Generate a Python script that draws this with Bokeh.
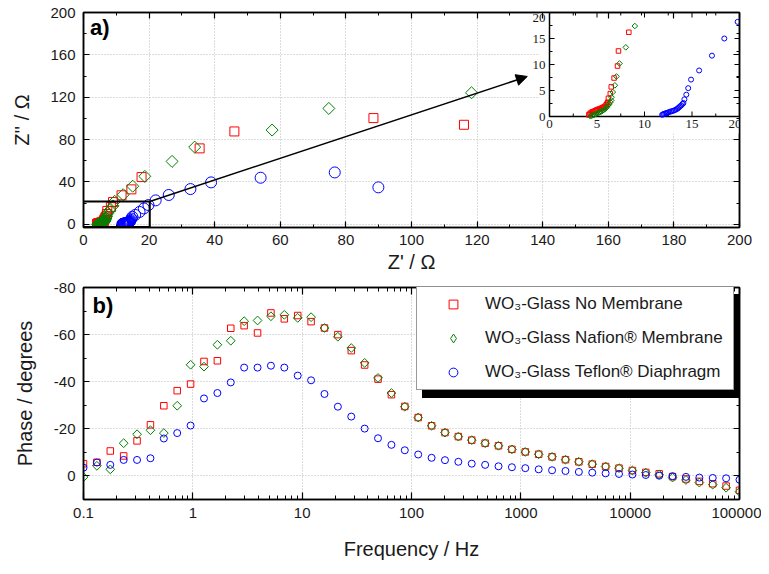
from bokeh.plotting import figure
from bokeh.models import (Range1d, FixedTicker, LinearAxis, LogAxis, Legend, LegendItem,
                          Arrow, NormalHead, Label, LabelSet, CustomJSTickFormatter,
                          BoxAnnotation, ColumnDataSource)
from bokeh.layouts import column
from bokeh.embed import file_html
from bokeh.resources import INLINE
import math

FONT = "Liberation Sans"
RED, GREEN, BLUE = "#ff0000", "#008000", "#0000ff"

# ---------------- data: Nyquist (Z' , Z'') ----------------
zr_nomem = [4.14, 4.2, 4.3, 4.42, 4.55, 4.66, 4.8, 4.92, 5.02, 5.15, 5.27, 5.37, 5.5, 5.62,
            5.72, 5.85, 5.97, 6.06, 6.14, 6.2, 6.4, 6.5, 6.8, 7.16, 7.26, 8.35, 9.0, 11.6,
            14.6, 17.7, 35.4, 46.0, 88.4, 116.0]
zi_nomem = [0.3, 0.42, 0.63, 0.78, 0.9, 0.98, 1.1, 1.2, 1.3, 1.38, 1.45, 1.52, 1.62, 1.72,
            1.82, 1.98, 2.25, 2.5, 2.75, 3.5, 4.4, 5.7, 7.4, 9.7, 12.6, 16.2, 21.0, 27.4,
            33.0, 44.6, 71.7, 87.7, 100.3, 94.0]
zr_nafion = [4.3, 4.45, 4.6, 4.75, 4.9, 5.05, 5.2, 5.32, 5.44, 5.56, 5.68, 5.8, 5.92, 6.03,
             6.14, 6.3, 6.4, 6.5, 6.53, 6.66, 6.88, 7.05, 7.37, 8.03, 8.98, 9.5, 12.1, 15.0,
             18.7, 27.0, 33.9, 57.5, 74.8, 118.3]
zi_nafion = [0.06, 0.15, 0.25, 0.36, 0.5, 0.62, 0.75, 0.86, 0.96, 1.08, 1.22, 1.4, 1.58, 1.8,
             2.1, 2.4, 2.75, 3.1, 3.7, 4.7, 6.0, 7.7, 10.2, 13.3, 17.4, 21.7, 28.0, 36.0,
             45.3, 59.4, 72.9, 89.0, 109.4, 124.2]
zr_teflon = [11.86, 11.95, 12.05, 12.18, 12.3, 12.39, 12.52, 12.65, 12.8, 12.95, 13.1, 13.25,
             13.4, 13.52, 13.62, 13.75, 13.87, 14.0, 14.1, 14.2, 14.4, 14.6, 14.9, 15.75, 17.1,
             18.4, 19.8, 22.0, 26.0, 32.6, 38.9, 54.0, 76.6, 89.9]
zi_teflon = [0.33, 0.42, 0.5, 0.6, 0.65, 0.7, 0.8, 0.9, 0.98, 1.05, 1.15, 1.28, 1.42, 1.58,
             1.75, 1.95, 2.15, 2.4, 2.6, 3.3, 4.2, 5.45, 7.1, 8.85, 11.7, 15.0, 18.2, 22.6,
             27.7, 33.3, 39.6, 44.0, 49.0, 34.9]

# ---------------- data: Bode phase ----------------
freq = [0.1, 0.1326, 0.1758, 0.2330, 0.3089, 0.4095, 0.5429, 0.7197, 0.9541, 1.2649,
        1.6768, 2.2230, 2.9471, 3.9069, 5.1795, 6.8665, 9.1030, 12.068, 15.998, 21.209,
        28.117, 37.276, 49.417, 65.512, 86.851, 115.14, 152.64, 202.36, 268.27, 355.65,
        471.49, 625.06, 828.65, 1098.6, 1456.3, 1930.7, 2559.5, 3393.2, 4498.4, 5963.6,
        7906.0, 10481, 13895, 18421, 24421, 32375, 42919, 56898, 75431, 100000]
ph_nomem = [-5.2, -5.8, -10.6, -8.5, -14.9, -21.7, -29.8, -36.2, -39.0, -48.6, -48.9, -62.7,
            -63.8, -60.7, -69.2, -66.7, -68.1, -65.5, -62.8, -60.0, -53.2, -47.1, -41.1, -34.5,
            -29.5, -24.8, -21.3, -18.4, -16.7, -15.2, -13.9, -12.8, -11.3, -10.2, -9.2, -8.1,
            -6.9, -6.0, -5.0, -4.0, -3.3, -2.3, -1.5, -0.9, 0.3, 1.3, 2.3, 3.3, 4.3, 6.1]
ph_nafion = [0.5, -4.3, -2.8, -13.9, -17.7, -19.4, -18.2, -29.8, -47.2, -46.4, -55.7, -57.4,
             -65.7, -66.0, -67.8, -68.4, -67.1, -67.4, -62.8, -59.1, -54.3, -48.0, -41.6, -35.2,
             -29.4, -24.8, -21.3, -18.4, -16.7, -15.2, -13.9, -12.8, -11.3, -10.2, -9.2, -8.1,
             -6.9, -6.0, -5.0, -4.0, -3.3, -2.3, -1.4, -0.6, 0.7, 1.7, 2.8, 3.7, 5.0, 6.7]
ph_teflon = [-3.5, -5.7, -4.7, -6.8, -6.8, -7.5, -15.9, -18.2, -21.4, -32.9, -35.2, -39.7,
             -46.0, -46.0, -46.8, -46.0, -42.6, -40.6, -34.8, -29.4, -25.2, -20.1, -16.0, -13.2,
             -10.9, -9.1, -7.7, -6.7, -6.0, -5.2, -4.7, -4.1, -3.7, -3.3, -2.8, -2.4, -2.1, -1.7,
             -1.4, -1.1, -0.85, -0.6, -0.4, -0.1, 0.1, 0.4, 0.7, 0.85, 1.0, 1.6]

labels = ["WO\u2083-Glass No Membrane", "WO\u2083-Glass Nafion\u00ae Membrane",
          "WO\u2083-Glass Teflon\u00ae Diaphragm"]

# tick positions
top_xticks = [0, 20, 40, 60, 80, 100, 120, 140, 160, 180, 200]
top_xminor = [10, 30, 50, 70, 90, 110, 130, 150, 170, 190]
top_yticks = [0, 40, 80, 120, 160, 200]
top_yminor = [20, 60, 100, 140, 180]
ins_ticks = [0, 5, 10, 15, 20]
ins_minor = [2.5, 7.5, 12.5, 17.5]
ins_lim = [0, 20]
bot_xticks = [0.1, 1, 10, 100, 1000, 10000, 100000]
bot_xminor = [d * m for d in [0.1, 1, 10, 100, 1000, 10000] for m in range(2, 10)]
bot_yticks = [-80, -60, -40, -20, 0]
bot_yminor = [-70, -50, -30, -10]

# geometry (pixels)
W = 761
TOP_H, BOT_H = 277, 289
FRAME_W, TOP_FRAME_H = 656, 215
INS_W, INS_H = 190, 104      # inset frame, anchored to the top-right of the top frame

BLANK = CustomJSTickFormatter(code="return ''")
PLAIN = CustomJSTickFormatter(code="return tick.toString()")


def style_axis(ax, size="15px", maj=6, mnr=3):
    ax.axis_line_color = "black"
    ax.axis_line_width = 1.5
    ax.major_tick_in = maj
    ax.major_tick_out = 0
    ax.minor_tick_in = mnr
    ax.minor_tick_out = 0
    ax.major_tick_line_color = "black"
    ax.minor_tick_line_color = "black"
    ax.major_tick_line_width = 1.2
    ax.major_label_text_font = FONT
    ax.major_label_text_font_size = size
    ax.major_label_text_color = "#1a1a1a"
    ax.axis_label_text_font = FONT
    ax.axis_label_text_font_size = "20px"
    ax.axis_label_text_font_style = "normal"
    ax.axis_label_text_color = "#1a1a1a"


def style_grid(p):
    for g in (p.xgrid, p.ygrid):
        g.grid_line_color = "#b8b8b8"
        g.grid_line_dash = "1 2"
        g.grid_line_width = 1


# ================= top: Nyquist with inset =================
top = figure(width=W, height=TOP_H, min_border_left=83, min_border_right=22,
             min_border_top=12, min_border_bottom=50, x_range=Range1d(0, 200),
             y_range=Range1d(-3, 200), output_backend="svg", toolbar_location=None)
top.outline_line_color = "black"
top.outline_line_width = 1.5
xt = FixedTicker(ticks=top_xticks, minor_ticks=top_xminor)
yt = FixedTicker(ticks=top_yticks, minor_ticks=top_yminor)
top.below[0].ticker = xt
top.left[0].ticker = yt
style_axis(top.below[0])
style_axis(top.left[0])
top.below[0].axis_label = "Z' / \u03a9"
top.left[0].axis_label = "Z'' / \u03a9"
top.below[0].major_label_standoff = 7
top.below[0].axis_label_standoff = 3
top.left[0].major_label_standoff = 8
top.left[0].axis_label_standoff = 14
for side, ax in (("above", LinearAxis(ticker=xt, formatter=BLANK)),
                 ("right", LinearAxis(ticker=yt, formatter=BLANK))):
    style_axis(ax)
    ax.major_label_standoff = 0
    top.add_layout(ax, side)
style_grid(top)

top.scatter(zr_nomem, zi_nomem, marker="square", size=9, line_color=RED, fill_color=None,
            line_width=1)
top.scatter(zr_teflon, zi_teflon, marker="circle", size=11, line_color=BLUE, fill_color=None,
            line_width=1)
top.scatter(zr_nafion, zi_nafion, marker="square", angle=math.pi / 4, size=8.5,
            line_color=GREEN, fill_color=None, line_width=1)

top.add_layout(BoxAnnotation(left=-0.4, right=20.2, bottom=-2.6, top=21.6, fill_alpha=0,
                             line_color="black", line_alpha=1, line_width=2))
top.add_layout(Arrow(end=NormalHead(size=11, fill_color="black", line_color="black"),
                     x_start=20.2, y_start=21.6, x_end=135.3, y_end=139.6,
                     line_color="black", line_width=1.5))
top.add_layout(Label(x=2.0, y=174, text="a)", text_font=FONT, text_font_size="22px",
                     text_font_style="bold", text_baseline="bottom", text_color="black"))

# inset drawn in the upper-right corner of the top frame with its own ranges
lo, hi = ins_lim
sx = INS_W / (hi - lo)
sy = INS_H / (hi - lo)
top.extra_x_ranges = {"ix": Range1d(hi - FRAME_W / sx, hi)}
top.extra_y_ranges = {"iy": Range1d(hi - TOP_FRAME_H / sy, hi)}
IR = dict(x_range_name="ix", y_range_name="iy")

top.add_layout(BoxAnnotation(left=lo - 10 / sx, right=hi, bottom=lo - 17 / sy, top=hi,
                             fill_color="white", fill_alpha=1, line_alpha=0,
                             level="underlay", **IR))
top.add_layout(BoxAnnotation(left=lo, right=hi, bottom=lo, top=hi, fill_alpha=0,
                             line_color="black", line_alpha=1, line_width=1.5,
                             level="underlay", **IR))

# inward tick marks on all four inset sides
for ticks, ln in ((ins_ticks, 5), (ins_minor, 3)):
    n = len(ticks)
    top.segment(x0=[lo] * n, y0=ticks, x1=[lo + ln / sx] * n, y1=ticks,
                line_color="black", line_width=1, **IR)
    top.segment(x0=[hi] * n, y0=ticks, x1=[hi - ln / sx] * n, y1=ticks,
                line_color="black", line_width=1, **IR)
    top.segment(x0=ticks, y0=[lo] * n, x1=ticks, y1=[lo + ln / sy] * n,
                line_color="black", line_width=1, **IR)
    top.segment(x0=ticks, y0=[hi] * n, x1=ticks, y1=[hi - ln / sy] * n,
                line_color="black", line_width=1, **IR)

inner = ins_ticks[:-1]
lab_style = dict(text_font=FONT, text_font_size="13px", text_color="#1a1a1a", **IR)
top.add_layout(LabelSet(x="x", y="y", text="t", x_offset=-4, text_align="right",
                        text_baseline="middle",
                        source=ColumnDataSource(dict(x=[lo] * len(inner), y=inner,
                                                     t=[str(v) for v in inner])),
                        **lab_style))
top.add_layout(LabelSet(x="x", y="y", text="t", x_offset=-4, y_offset=-5,
                        text_align="right", text_baseline="middle",
                        source=ColumnDataSource(dict(x=[lo], y=[hi], t=[str(hi)])),
                        **lab_style))
top.add_layout(LabelSet(x="x", y="y", text="t", y_offset=-3, text_align="center",
                        text_baseline="top",
                        source=ColumnDataSource(dict(x=inner, y=[lo] * len(inner),
                                                     t=[str(v) for v in inner])),
                        **lab_style))
top.add_layout(LabelSet(x="x", y="y", text="t", y_offset=-3, x_offset=2, text_align="right",
                        text_baseline="top",
                        source=ColumnDataSource(dict(x=[hi], y=[lo], t=[str(hi)])),
                        **lab_style))

top.scatter(zr_nomem, zi_nomem, marker="square", size=4.5, line_color=RED, fill_color=None,
            **IR)
top.scatter(zr_teflon, zi_teflon, marker="circle", size=5, line_color=BLUE, fill_color=None,
            **IR)
top.scatter(zr_nafion, zi_nafion, marker="square", angle=math.pi / 4, size=4,
            line_color=GREEN, fill_color=None, **IR)

# ================= bottom: Bode phase =================
bot = figure(width=W, height=BOT_H, min_border_left=83, min_border_right=22,
             min_border_top=10, min_border_bottom=67, x_axis_type="log",
             x_range=Range1d(0.1, 100000), y_range=Range1d(10, -80),
             output_backend="svg", toolbar_location=None)
bot.outline_line_color = "black"
bot.outline_line_width = 1.5
bxt = FixedTicker(ticks=bot_xticks, minor_ticks=bot_xminor)
byt = FixedTicker(ticks=bot_yticks, minor_ticks=bot_yminor)
bot.below[0].ticker = bxt
bot.below[0].formatter = PLAIN
bot.left[0].ticker = byt
bot.left[0].formatter = PLAIN
style_axis(bot.below[0], maj=7, mnr=4)
style_axis(bot.left[0])
bot.below[0].axis_label = "Frequency / Hz"
bot.left[0].axis_label = "Phase / degrees"
bot.below[0].major_label_standoff = 8
bot.below[0].axis_label_standoff = 17
bot.left[0].major_label_standoff = 8
bot.left[0].axis_label_standoff = 15
ax_top = LogAxis(ticker=bxt, formatter=BLANK)
style_axis(ax_top, maj=7, mnr=4)
ax_top.major_label_standoff = 0
bot.add_layout(ax_top, "above")
ax_right = LinearAxis(ticker=byt, formatter=BLANK)
style_axis(ax_right)
ax_right.major_label_standoff = 0
bot.add_layout(ax_right, "right")
style_grid(bot)

r1 = bot.scatter(freq, ph_nomem, marker="square", size=6.5, line_color=RED, fill_color=None)
r2 = bot.scatter(freq, ph_nafion, marker="square", angle=math.pi / 4, size=6.2,
                 line_color=GREEN, fill_color=None)
r3 = bot.scatter(freq, ph_teflon, marker="circle", size=7, line_color=BLUE, fill_color=None)
# legend key for the Nafion series (a diamond symbol; the legend ignores marker angles)
r2_key = bot.scatter(freq, ph_nafion, marker="diamond", size=10, line_color=GREEN,
                     fill_color=None, visible=False)

bot.add_layout(Label(x=0.121, y=-67, text="b)", text_font=FONT, text_font_size="22px",
                     text_font_style="bold", text_baseline="bottom", text_color="black"))


def make_legend(loc, dark):
    names = [" ", " ", " "] if dark else labels
    lg = Legend(items=[LegendItem(label=names[0], renderers=[r1]),
                       LegendItem(label=names[1], renderers=[r2_key]),
                       LegendItem(label=names[2], renderers=[r3])],
                location=loc)
    lg.label_text_font = FONT
    lg.label_text_font_size = "17px"
    lg.label_text_color = "#1a1a1a"
    lg.glyph_width = 60
    lg.glyph_height = 22
    lg.label_height = 22
    lg.label_width = 242
    lg.label_standoff = 2
    lg.spacing = 12
    lg.padding = 6
    lg.margin = 0
    lg.border_line_color = "black" if dark else "#333333"
    lg.border_line_width = 1
    lg.background_fill_color = "black" if dark else "white"
    lg.background_fill_alpha = 1
    lg.inactive_fill_alpha = 0
    return lg


bot.add_layout(make_legend((339, 101), True), "center")
bot.add_layout(make_legend((333, 109), False), "center")

layout = column(top, bot, styles={"position": "absolute", "left": "0px", "top": "0px"})
open("out.html", "w").write(file_html(layout, INLINE))
